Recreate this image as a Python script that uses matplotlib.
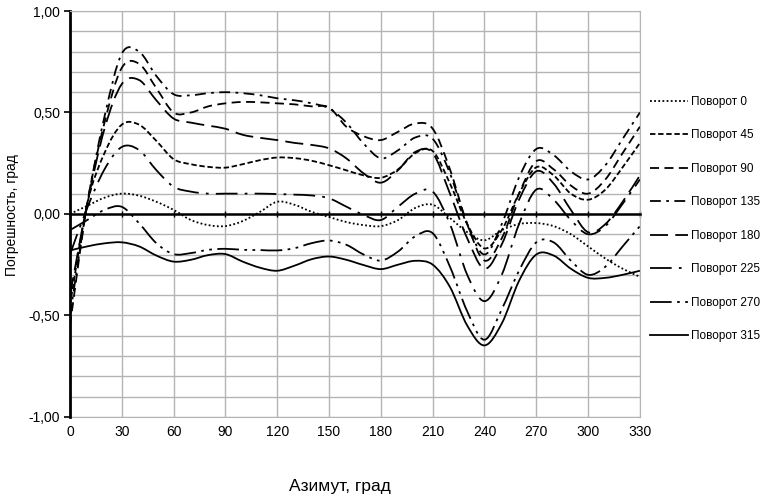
import matplotlib
matplotlib.use("Agg")
import matplotlib.pyplot as plt
import numpy as np
from matplotlib.path import Path
from matplotlib.patches import PathPatch
from matplotlib.lines import Line2D

# Azimuth, deg (readings every 10 deg)
azimuth = list(range(0, 331, 10))

rot_0 = [0.00, 0.04, 0.08, 0.10, 0.09, 0.06, 0.02, -0.03, -0.055, -0.06,
         -0.035, 0.01, 0.06, 0.045, 0.01, -0.015, -0.04, -0.055, -0.06, -0.03,
         0.03, 0.045, -0.02, -0.09, -0.13, -0.08, -0.05, -0.045, -0.06, -0.10,
         -0.16, -0.22, -0.27, -0.31]
rot_45 = [-0.45, 0.05, 0.30, 0.44, 0.44, 0.36, 0.27, 0.245, 0.232, 0.228,
          0.245, 0.265, 0.278, 0.275, 0.262, 0.24, 0.215, 0.19, 0.178, 0.22,
          0.30, 0.31, 0.15, -0.05, -0.17, -0.08, 0.10, 0.23, 0.19, 0.10,
          0.07, 0.12, 0.23, 0.35]
rot_90 = [-0.55, 0.05, 0.45, 0.72, 0.74, 0.62, 0.50, 0.50, 0.53, 0.545,
          0.552, 0.55, 0.545, 0.54, 0.53, 0.525, 0.43, 0.383, 0.364, 0.405,
          0.446, 0.42, 0.22, -0.05, -0.23, -0.12, 0.10, 0.26, 0.22, 0.14,
          0.10, 0.17, 0.30, 0.43]
rot_135 = [-0.50, 0.05, 0.48, 0.79, 0.80, 0.68, 0.59, 0.585, 0.595, 0.60,
           0.595, 0.585, 0.57, 0.56, 0.545, 0.52, 0.45, 0.347, 0.274, 0.314,
           0.377, 0.37, 0.20, -0.05, -0.20, -0.05, 0.18, 0.32, 0.29, 0.21,
           0.17, 0.24, 0.37, 0.50]
rot_180 = [-0.40, 0.05, 0.42, 0.64, 0.66, 0.56, 0.47, 0.45, 0.435, 0.42,
           0.39, 0.375, 0.364, 0.35, 0.34, 0.323, 0.274, 0.20, 0.154, 0.216,
           0.306, 0.30, 0.10, -0.12, -0.27, -0.15, 0.07, 0.21, 0.15, 0.02,
           -0.09, -0.05, 0.06, 0.19]
rot_225 = [-0.20, 0.03, 0.22, 0.33, 0.315, 0.216, 0.134, 0.11, 0.10, 0.10,
           0.10, 0.10, 0.098, 0.095, 0.091, 0.077, 0.036, -0.005, -0.03, 0.036,
           0.10, 0.11, -0.05, -0.30, -0.43, -0.30, -0.05, 0.12, 0.07, -0.03,
           -0.10, -0.06, 0.05, 0.17]
rot_270 = [-0.08, -0.03, 0.02, 0.035, -0.046, -0.144, -0.198, -0.193, -0.177, -0.172,
           -0.177, -0.178, -0.18, -0.169, -0.144, -0.131, -0.152, -0.20, -0.23, -0.185,
           -0.11, -0.095, -0.26, -0.48, -0.62, -0.47, -0.28, -0.14, -0.14, -0.23,
           -0.30, -0.26, -0.16, -0.06]
rot_315 = [-0.18, -0.16, -0.145, -0.14, -0.16, -0.205, -0.235, -0.226, -0.203, -0.198,
           -0.235, -0.265, -0.28, -0.255, -0.223, -0.21, -0.226, -0.252, -0.272, -0.25,
           -0.231, -0.25, -0.36, -0.55, -0.648, -0.54, -0.33, -0.20, -0.205, -0.27,
           -0.315, -0.315, -0.30, -0.28]

series = [rot_0, rot_45, rot_90, rot_135, rot_180, rot_225, rot_270, rot_315]
labels = ["Поворот 0", "Поворот 45", "Поворот 90", "Поворот 135",
          "Поворот 180", "Поворот 225", "Поворот 270", "Поворот 315"]
styles = [(0, (1, 1.3)), (0, (3, 1.5)), (0, (5, 3)), (0, (6, 3, 1.5, 3)),
          (0, (10, 4)), (0, (12, 4, 1.5, 4)), (0, (12, 3, 1.5, 3, 1.5, 3)), "-"]

FONT = ["Liberation Sans", "DejaVu Sans"]
plt.rcParams["font.family"] = FONT


def smooth_path(x, y):
    """ Excel-like smoothed line: Catmull-Rom segments as cubic Bezier. """
    pts = np.column_stack([x, y]).astype(float)
    n = len(pts)
    verts = [pts[0]]
    codes = [Path.MOVETO]
    for i in range(n - 1):
        p0 = pts[max(i - 1, 0)]
        p1 = pts[i]
        p2 = pts[i + 1]
        p3 = pts[min(i + 2, n - 1)]
        verts += [p1 + (p2 - p0) / 6, p2 - (p3 - p1) / 6, p2]
        codes += [Path.CURVE4] * 3
    return Path(verts, codes)


fig = plt.figure(figsize=(7.63, 5.01), dpi=100)
ax = fig.add_axes([0.0917, 0.168, 0.747, 0.81])

grid_c = "#b4b4b4"
ax.set_xlim(0, 330)
ax.set_ylim(-1, 1)
ax.set_xticks(range(0, 331, 30))
ax.set_yticks([-1, -0.5, 0, 0.5, 1])
ax.set_yticks(np.arange(-1, 1.01, 0.1), minor=True)
ax.grid(True, which="both", color=grid_c, lw=1)
ax.tick_params(axis="y", which="minor", length=0)
ax.set_axisbelow(True)

for s in ["top", "right"]:
    ax.spines[s].set_color(grid_c)
ax.spines["left"].set_linewidth(2)
ax.spines["bottom"].set_position(("data", 0))
ax.spines["bottom"].set_linewidth(1.8)
ax.tick_params(axis="x", direction="inout", length=5, width=1, labelbottom=False)
ax.tick_params(axis="y", which="major", direction="out", length=4, width=1.2,
               pad=3)
ax.set_yticklabels(["-1,00", "-0,50", "0,00", "0,50", "1,00"], fontsize=10)

sec = ax.secondary_xaxis("bottom")
sec.set_xticks(range(0, 331, 30))
sec.set_xticklabels([str(v) for v in range(0, 331, 30)], fontsize=10)
sec.tick_params(length=0, pad=6)
sec.spines["bottom"].set_color(grid_c)

handles = []
for vals, ls in zip(series, styles):
    patch = PathPatch(smooth_path(azimuth, vals), fill=False, edgecolor="black",
                      lw=1.3, linestyle=ls, capstyle="butt")
    ax.add_patch(patch)
    handles.append(Line2D([], [], color="black", lw=1.3, linestyle=ls))

fig.legend(handles, labels, loc="center left", bbox_to_anchor=(0.838, 0.563),
           frameon=False, prop={"size": 8.5},
           handlelength=3.2, handletextpad=0.25, labelspacing=1.82)

fig.text(0.445, 0.028, "Азимут, град", ha="center", va="center",
         fontsize=12.5)
fig.text(0.016, 0.57, "Погрешность, град", rotation=90, ha="center",
         va="center", fontsize=10)

fig.savefig("out.png", dpi=100)
